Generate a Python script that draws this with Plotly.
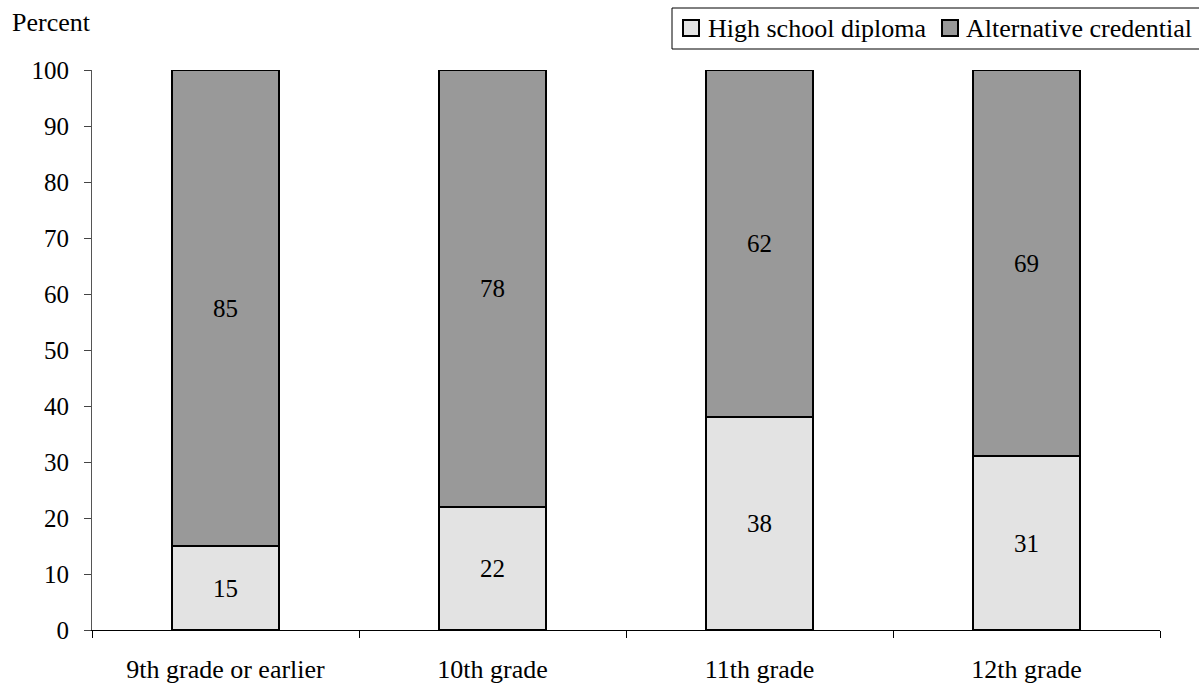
import plotly.graph_objects as go

categories = ["9th grade or earlier", "10th grade", "11th grade", "12th grade"]
diploma = [15, 22, 38, 31]
alternative = [85, 78, 62, 69]
series_names = ["High school diploma", "Alternative credential"]
series_colors = ["#e3e3e3", "#999999"]

FONT = "Liberation Serif"

fig = go.Figure()
for name, vals, col in zip(series_names, [diploma, alternative], series_colors):
    fig.add_trace(go.Bar(
        x=categories, y=vals, name=name, showlegend=False,
        marker=dict(color=col, line=dict(color="black", width=2)),
        text=[str(v) for v in vals], textposition="inside", insidetextanchor="middle",
        textfont=dict(family=FONT, size=25, color="black"), textangle=0,
    ))

# plot area in pixels: x 92..1160, y 70..630
L, R, T, B = 92, 1160, 70, 630
def px(x):
    return (x - L) / (R - L)
def py(y):
    return (B - y) / (B - T)

fig.update_layout(
    barmode="stack",
    bargap=0.596,
    width=1199, height=683,
    margin=dict(l=L, r=1199 - R, t=T, b=683 - B),
    paper_bgcolor="white", plot_bgcolor="white",
    font=dict(family=FONT, size=25, color="black"),
    showlegend=False,
)
fig.update_xaxes(
    type="category", tickson="boundaries", ticks="outside", ticklen=7,
    tickcolor="black", showline=True, linecolor="black", linewidth=1,
    showgrid=False, tickfont=dict(family=FONT, size=26), automargin=False,
    ticklabelstandoff=16,
)
fig.update_yaxes(
    range=[0, 100], dtick=10, ticks="outside", ticklen=7, tickcolor="#444",
    showline=True, linecolor="#555", linewidth=1, showgrid=False, zeroline=False,
    tickfont=dict(family=FONT, size=25), automargin=False, ticklabelstandoff=10,
)
fig.add_annotation(
    text="Percent", xref="paper", yref="paper", x=px(10), y=py(22),
    xanchor="left", yanchor="middle", showarrow=False,
    font=dict(family=FONT, size=26, color="black"),
)

# legend (drawn manually to match compact boxed legend)
fig.add_shape(type="rect", xref="paper", yref="paper",
              x0=px(672), x1=px(1205), y0=py(49), y1=py(8),
              line=dict(color="black", width=1), fillcolor="white", layer="above")
legend_swatch_x = [683, 942]
legend_text_x = [706, 964]
for name, col, sx, tx in zip(series_names, series_colors, legend_swatch_x, legend_text_x):
    fig.add_shape(type="rect", xref="paper", yref="paper",
                  x0=px(sx), x1=px(sx + 16), y0=py(36), y1=py(20),
                  line=dict(color="black", width=2), fillcolor=col, layer="above")
    fig.add_annotation(
        text=name, xref="paper", yref="paper", x=px(tx), y=py(28),
        xanchor="left", yanchor="middle", showarrow=False,
        font=dict(family=FONT, size=26, color="black"),
    )

fig.write_html("out.html", post_script="document.body.style.margin='0';",
               config={"displayModeBar": False})
